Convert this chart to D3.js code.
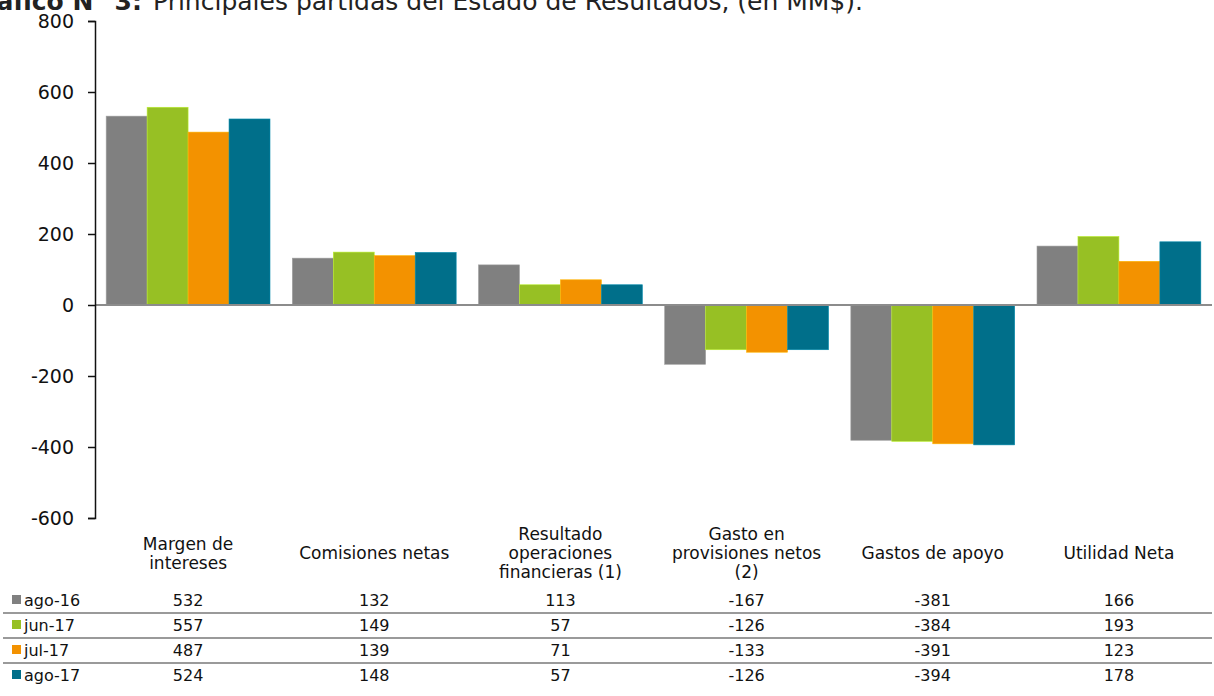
<!DOCTYPE html>
<html>
<head>
<meta charset="utf-8">
<script src="https://cdn.jsdelivr.net/npm/d3@7"></script>
<style>
  body { margin: 0; background: #fff; }
  svg { font-family: "DejaVu Sans", Verdana, sans-serif; }
</style>
</head>
<body>
<div id="chart"></div>
<script>
// data
var categories = [
  ["Margen de", "intereses"],
  ["Comisiones netas"],
  ["Resultado", "operaciones", "financieras (1)"],
  ["Gasto en", "provisiones netos", "(2)"],
  ["Gastos de apoyo"],
  ["Utilidad Neta"]
];
var seriesNames = ["ago-16", "jun-17", "jul-17", "ago-17"];
var ago16 = [532, 132, 113, -167, -381, 166];
var jun17 = [557, 149, 57, -126, -384, 193];
var jul17 = [487, 139, 71, -133, -391, 123];
var ago17 = [524, 148, 57, -126, -394, 178];
var seriesValues = [ago16, jun17, jul17, ago17];
var colors = ["#808080", "#97c024", "#f39200", "#006f8a"];
var yTicks = [-600, -400, -200, 0, 200, 400, 600, 800];

var W = 1214, H = 696;
var margin = {left: 95, right: 1212, top: 21, bottom: 518};

var svg = d3.select("#chart").append("svg")
    .attr("width", W)
    .attr("height", H);

// title (cut off at top like the original)
svg.append("text")
    .attr("x", 142)
    .attr("y", 10)
    .attr("text-anchor", "end")
    .style("font-size", "25px")
    .style("font-weight", "bold")
    .style("fill", "#222")
    .text("Gráfico N° 3:");
svg.append("text")
    .attr("x", 153)
    .attr("y", 10)
    .style("font-size", "25px")
    .style("fill", "#222")
    .text("Principales partidas del Estado de Resultados, (en MM$).");

// scales
var x0 = d3.scaleBand()
    .domain(d3.range(categories.length))
    .range([margin.left, margin.right])
    .paddingInner(0.12)
    .paddingOuter(0.06);

var x1 = d3.scaleBand()
    .domain(d3.range(seriesNames.length))
    .range([0, x0.bandwidth()]);

var y = d3.scaleLinear()
    .domain([-600, 800])
    .range([margin.bottom, margin.top]);

// bars
var groups = svg.append("g")
  .selectAll("g")
  .data(categories)
  .join("g")
    .attr("transform", function(d, i) { return "translate(" + x0(i) + ",0)"; });

groups.selectAll("rect")
  .data(function(d, i) { return seriesValues.map(function(s, j) { return {s: j, v: s[i]}; }); })
  .join("rect")
    .attr("x", function(d) { return x1(d.s); })
    .attr("width", x1.bandwidth())
    .attr("y", function(d) { return y(Math.max(0, d.v)); })
    .attr("height", function(d) { return Math.abs(y(d.v) - y(0)); })
    .attr("fill", function(d) { return colors[d.s]; })
    .attr("stroke", function(d) { return d3.color(colors[d.s]).brighter(0.6); })
    .attr("stroke-width", 0.6);

// zero line
svg.append("line")
    .attr("x1", margin.left)
    .attr("x2", margin.right)
    .attr("y1", y(0))
    .attr("y2", y(0))
    .attr("stroke", "#8c8c8c")
    .attr("stroke-width", 2);

// y axis
var yAxis = svg.append("g")
    .attr("transform", "translate(" + margin.left + ",0)")
    .call(d3.axisLeft(y).tickValues(yTicks).tickSize(7).tickSizeOuter(7).tickPadding(14)
      .tickFormat(function(d) { return String(d); }));
yAxis.select("path.domain").attr("stroke", "#111").attr("stroke-width", 1.5);
yAxis.selectAll(".tick line").attr("stroke", "#111").attr("stroke-width", 1.5);
yAxis.selectAll("text")
    .style("font-size", "19px")
    .style("font-family", "DejaVu Sans, Verdana, sans-serif")
    .attr("fill", "#111");

// category labels
var lineH = 19;
svg.append("g")
  .selectAll("text")
  .data(categories)
  .join("text")
    .attr("text-anchor", "middle")
    .style("font-size", "17px")
    .attr("fill", "#111")
    .each(function(d, i) {
      var t = d3.select(this);
      var cx = x0(i) + x0.bandwidth() / 2;
      var y0 = 559 - (d.length - 1) * lineH / 2;
      d.forEach(function(line, k) {
        t.append("tspan").attr("x", cx).attr("y", y0 + k * lineH).text(line);
      });
    });

// data table
var rowY = [606, 631, 656, 681];
var table = svg.append("g");

// separator lines between rows
table.selectAll("line")
  .data(rowY.slice(0, 3))
  .join("line")
    .attr("x1", 3)
    .attr("x2", 1212)
    .attr("y1", function(d) { return d + 7; })
    .attr("y2", function(d) { return d + 7; })
    .attr("stroke", "#9a9a9a")
    .attr("stroke-width", 2);

var rows = table.selectAll("g.row")
  .data(seriesNames)
  .join("g")
    .attr("class", "row");

rows.append("rect")
    .attr("x", 12)
    .attr("y", function(d, i) { return rowY[i] - 11; })
    .attr("width", 9)
    .attr("height", 9)
    .attr("fill", function(d, i) { return colors[i]; });

rows.append("text")
    .attr("x", 24)
    .attr("y", function(d, i) { return rowY[i]; })
    .style("font-size", "16px")
    .attr("fill", "#111")
    .text(function(d) { return d; });

rows.each(function(name, j) {
  d3.select(this).selectAll("text.val")
    .data(seriesValues[j])
    .join("text")
      .attr("class", "val")
      .attr("x", function(v, i) { return x0(i) + x0.bandwidth() / 2; })
      .attr("y", rowY[j])
      .attr("text-anchor", "middle")
      .style("font-size", "16px")
      .attr("fill", "#111")
      .text(function(v) { return v; });
});
</script>
</body>
</html>
